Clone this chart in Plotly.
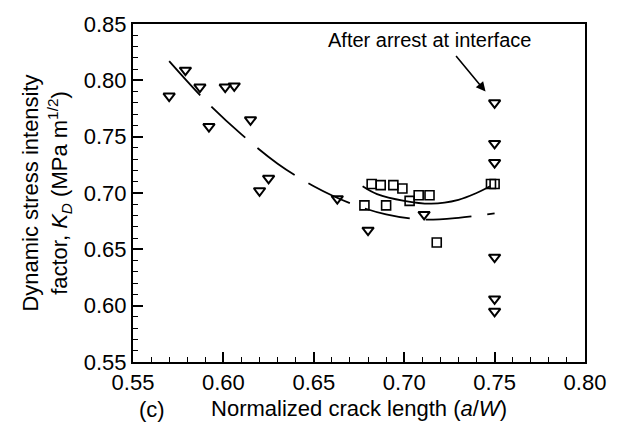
import plotly.graph_objects as go

# Triangles: crack-arrest measurements
tri_x = [0.570, 0.579, 0.587, 0.592, 0.601, 0.606, 0.615, 0.620, 0.625,
         0.663, 0.680, 0.711, 0.750, 0.750, 0.750, 0.750, 0.750, 0.750]
tri_y = [0.786, 0.809, 0.794, 0.759, 0.794, 0.795, 0.765, 0.702, 0.713,
         0.695, 0.667, 0.681, 0.780, 0.744, 0.727, 0.643, 0.606, 0.595]

# Squares: second specimen set
sq_x = [0.678, 0.682, 0.687, 0.690, 0.694, 0.699, 0.703, 0.708, 0.714, 0.718, 0.748, 0.750]
sq_y = [0.689, 0.708, 0.707, 0.689, 0.707, 0.704, 0.693, 0.698, 0.698, 0.656, 0.708, 0.708]

# Trend through the triangles (dashed)
trend_tri_x = [0.570, 0.590, 0.610, 0.630, 0.650, 0.670, 0.690, 0.710, 0.730, 0.750]
trend_tri_y = [0.817, 0.782, 0.752, 0.726, 0.706, 0.691, 0.681, 0.6765, 0.678, 0.682]

# Trend through the squares (solid)
trend_sq_x = [0.677, 0.685, 0.700, 0.715, 0.730, 0.740, 0.7475]
trend_sq_y = [0.706, 0.699, 0.693, 0.6905, 0.694, 0.700, 0.706]

FONT = "Liberation Sans, Arial, Helvetica, sans-serif"

fig = go.Figure()

fig.add_trace(go.Scatter(
    x=trend_tri_x, y=trend_tri_y, mode="lines",
    line=dict(color="black", width=1.8, dash="46px,16px", shape="spline"),
    hoverinfo="skip", showlegend=False))

fig.add_trace(go.Scatter(
    x=trend_sq_x, y=trend_sq_y, mode="lines",
    line=dict(color="black", width=1.8, shape="spline"),
    hoverinfo="skip", showlegend=False))

fig.add_trace(go.Scatter(
    x=tri_x, y=tri_y, mode="markers",
    marker=dict(symbol="triangle-down-open", size=10, color="black",
                line=dict(width=2, color="black")),
    showlegend=False))

fig.add_trace(go.Scatter(
    x=sq_x, y=sq_y, mode="markers",
    marker=dict(symbol="square-open", size=9, color="black",
                line=dict(width=1.6, color="black")),
    showlegend=False))

axis_common = dict(
    showline=True, linecolor="black", linewidth=2, mirror=True,
    ticks="inside", ticklen=10, tickwidth=1.5, tickcolor="black",
    minor=dict(ticks="inside", ticklen=5, tickwidth=1.2, tickcolor="black", dtick=0.01),
    showgrid=False, zeroline=False, tickformat=".2f",
    tickfont=dict(family=FONT, size=22, color="black"),
)

fig.update_xaxes(
    range=[0.55, 0.80], dtick=0.05, tick0=0.55,
    title=dict(text="Normalized crack length (<i>a</i>/<i>W</i>)",
               font=dict(family=FONT, size=22, color="black"), standoff=6),
    **axis_common)

fig.update_yaxes(
    range=[0.55, 0.85], dtick=0.05, tick0=0.55,
    title=dict(text="Dynamic stress intensity<br>factor, <i>K</i><sub><i>D</i></sub> (MPa m<sup>1/2</sup>)",
               font=dict(family=FONT, size=22, color="black"), standoff=10),
    **axis_common)

fig.add_annotation(
    x=0.745, y=0.790, ax=0.728, ay=0.823, xref="x", yref="y",
    axref="x", ayref="y", text="", showarrow=True,
    arrowhead=2, arrowsize=1.2, arrowwidth=1.6, arrowcolor="black")

fig.add_annotation(
    x=0.771, y=0.836, xref="x", yref="y", xanchor="right", yanchor="middle",
    text="After arrest at interface", showarrow=False,
    font=dict(family=FONT, size=20, color="black"))

fig.add_annotation(
    x=0.043, y=-0.14, xref="paper", yref="paper", xanchor="center", yanchor="middle",
    text="(c)", showarrow=False,
    font=dict(family=FONT, size=22, color="black"))

fig.update_layout(
    width=618, height=431,
    margin=dict(l=133, r=22, t=18, b=69),
    paper_bgcolor="white", plot_bgcolor="white",
    font=dict(family=FONT, color="black"),
)

fig.write_html("out.html")
